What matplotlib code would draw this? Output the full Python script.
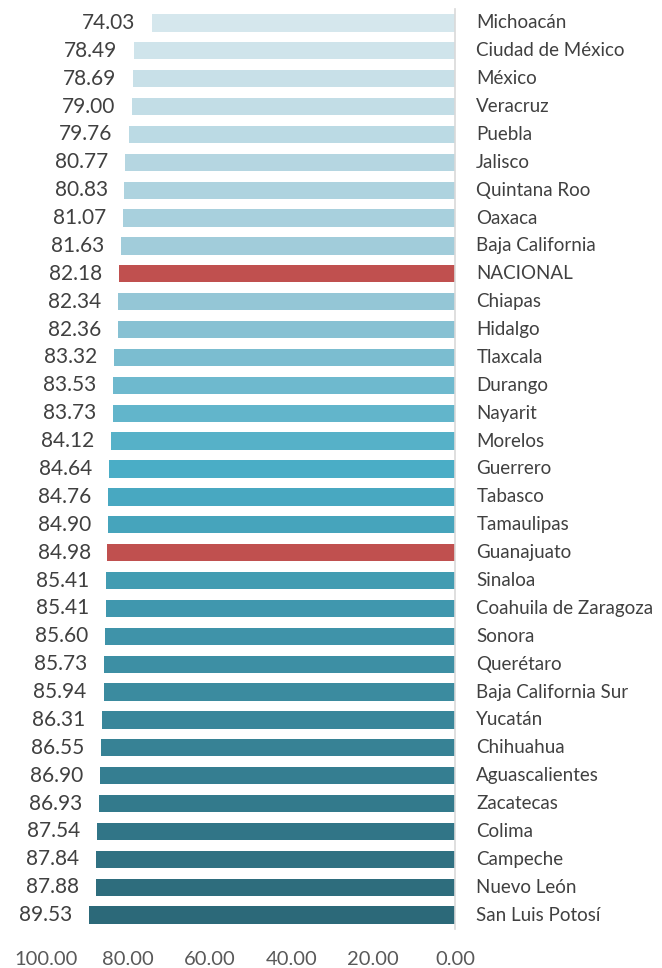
import matplotlib
matplotlib.use("Agg")
import matplotlib.pyplot as plt
import numpy as np
from matplotlib.colors import LinearSegmentedColormap

states = ["Michoacán", "Ciudad de México", "México", "Veracruz", "Puebla", "Jalisco",
          "Quintana Roo", "Oaxaca", "Baja California", "NACIONAL", "Chiapas", "Hidalgo",
          "Tlaxcala", "Durango", "Nayarit", "Morelos", "Guerrero", "Tabasco", "Tamaulipas",
          "Guanajuato", "Sinaloa", "Coahuila de Zaragoza", "Sonora", "Querétaro",
          "Baja California Sur", "Yucatán", "Chihuahua", "Aguascalientes", "Zacatecas",
          "Colima", "Campeche", "Nuevo León", "San Luis Potosí"]
values = [74.03, 78.49, 78.69, 79.00, 79.76, 80.77, 80.83, 81.07, 81.63, 82.18, 82.34,
          82.36, 83.32, 83.53, 83.73, 84.12, 84.64, 84.76, 84.90, 84.98, 85.41, 85.41,
          85.60, 85.73, 85.94, 86.31, 86.55, 86.90, 86.93, 87.54, 87.84, 87.88, 89.53]
highlight = ["NACIONAL", "Guanajuato"]
xticks = [100, 80, 60, 40, 20, 0]

plt.rcParams['font.family'] = ['Lato', 'DejaVu Sans']

cmap = LinearSegmentedColormap.from_list(
    "grad", [(0.0, "#D5E7ED"), (0.31, "#95C6D6"), (0.5, "#4AADC6"), (1.0, "#2C6979")])
n = len(states)
colors = []
for i, s in enumerate(states):
    if s in highlight:
        colors.append("#C0504F")
    else:
        colors.append(cmap(i / (n - 1)))

fig = plt.figure(figsize=(6.62, 9.68), dpi=100)
ax = fig.add_axes([46/662, 1 - 929/968, (455-46)/662, (929-9)/968])

y = np.arange(n)
ax.barh(y, values, height=0.62, color=colors)
ax.set_xlim(100, 0)
ax.set_ylim(n - 0.5, -0.5)

for yi, v, s in zip(y, values, states):
    ax.text(v + 4.1, yi, f"{v:.2f}", ha="right", va="center", fontsize=15, color="#404040")
    ax.text(-5.2, yi, s, ha="left", va="center", fontsize=13.5, color="#404040")

for sp in ["top", "left", "bottom"]:
    ax.spines[sp].set_visible(False)
ax.spines["right"].set_color("#D9D9D9")
ax.spines["right"].set_linewidth(1.2)
ax.set_yticks([])
ax.set_xticks(xticks)
ax.set_xticklabels([f"{t:.2f}" for t in xticks], fontsize=14.5, color="#595959")
ax.tick_params(axis="x", length=0, pad=15.5)

fig.savefig("out.png", dpi=100)
